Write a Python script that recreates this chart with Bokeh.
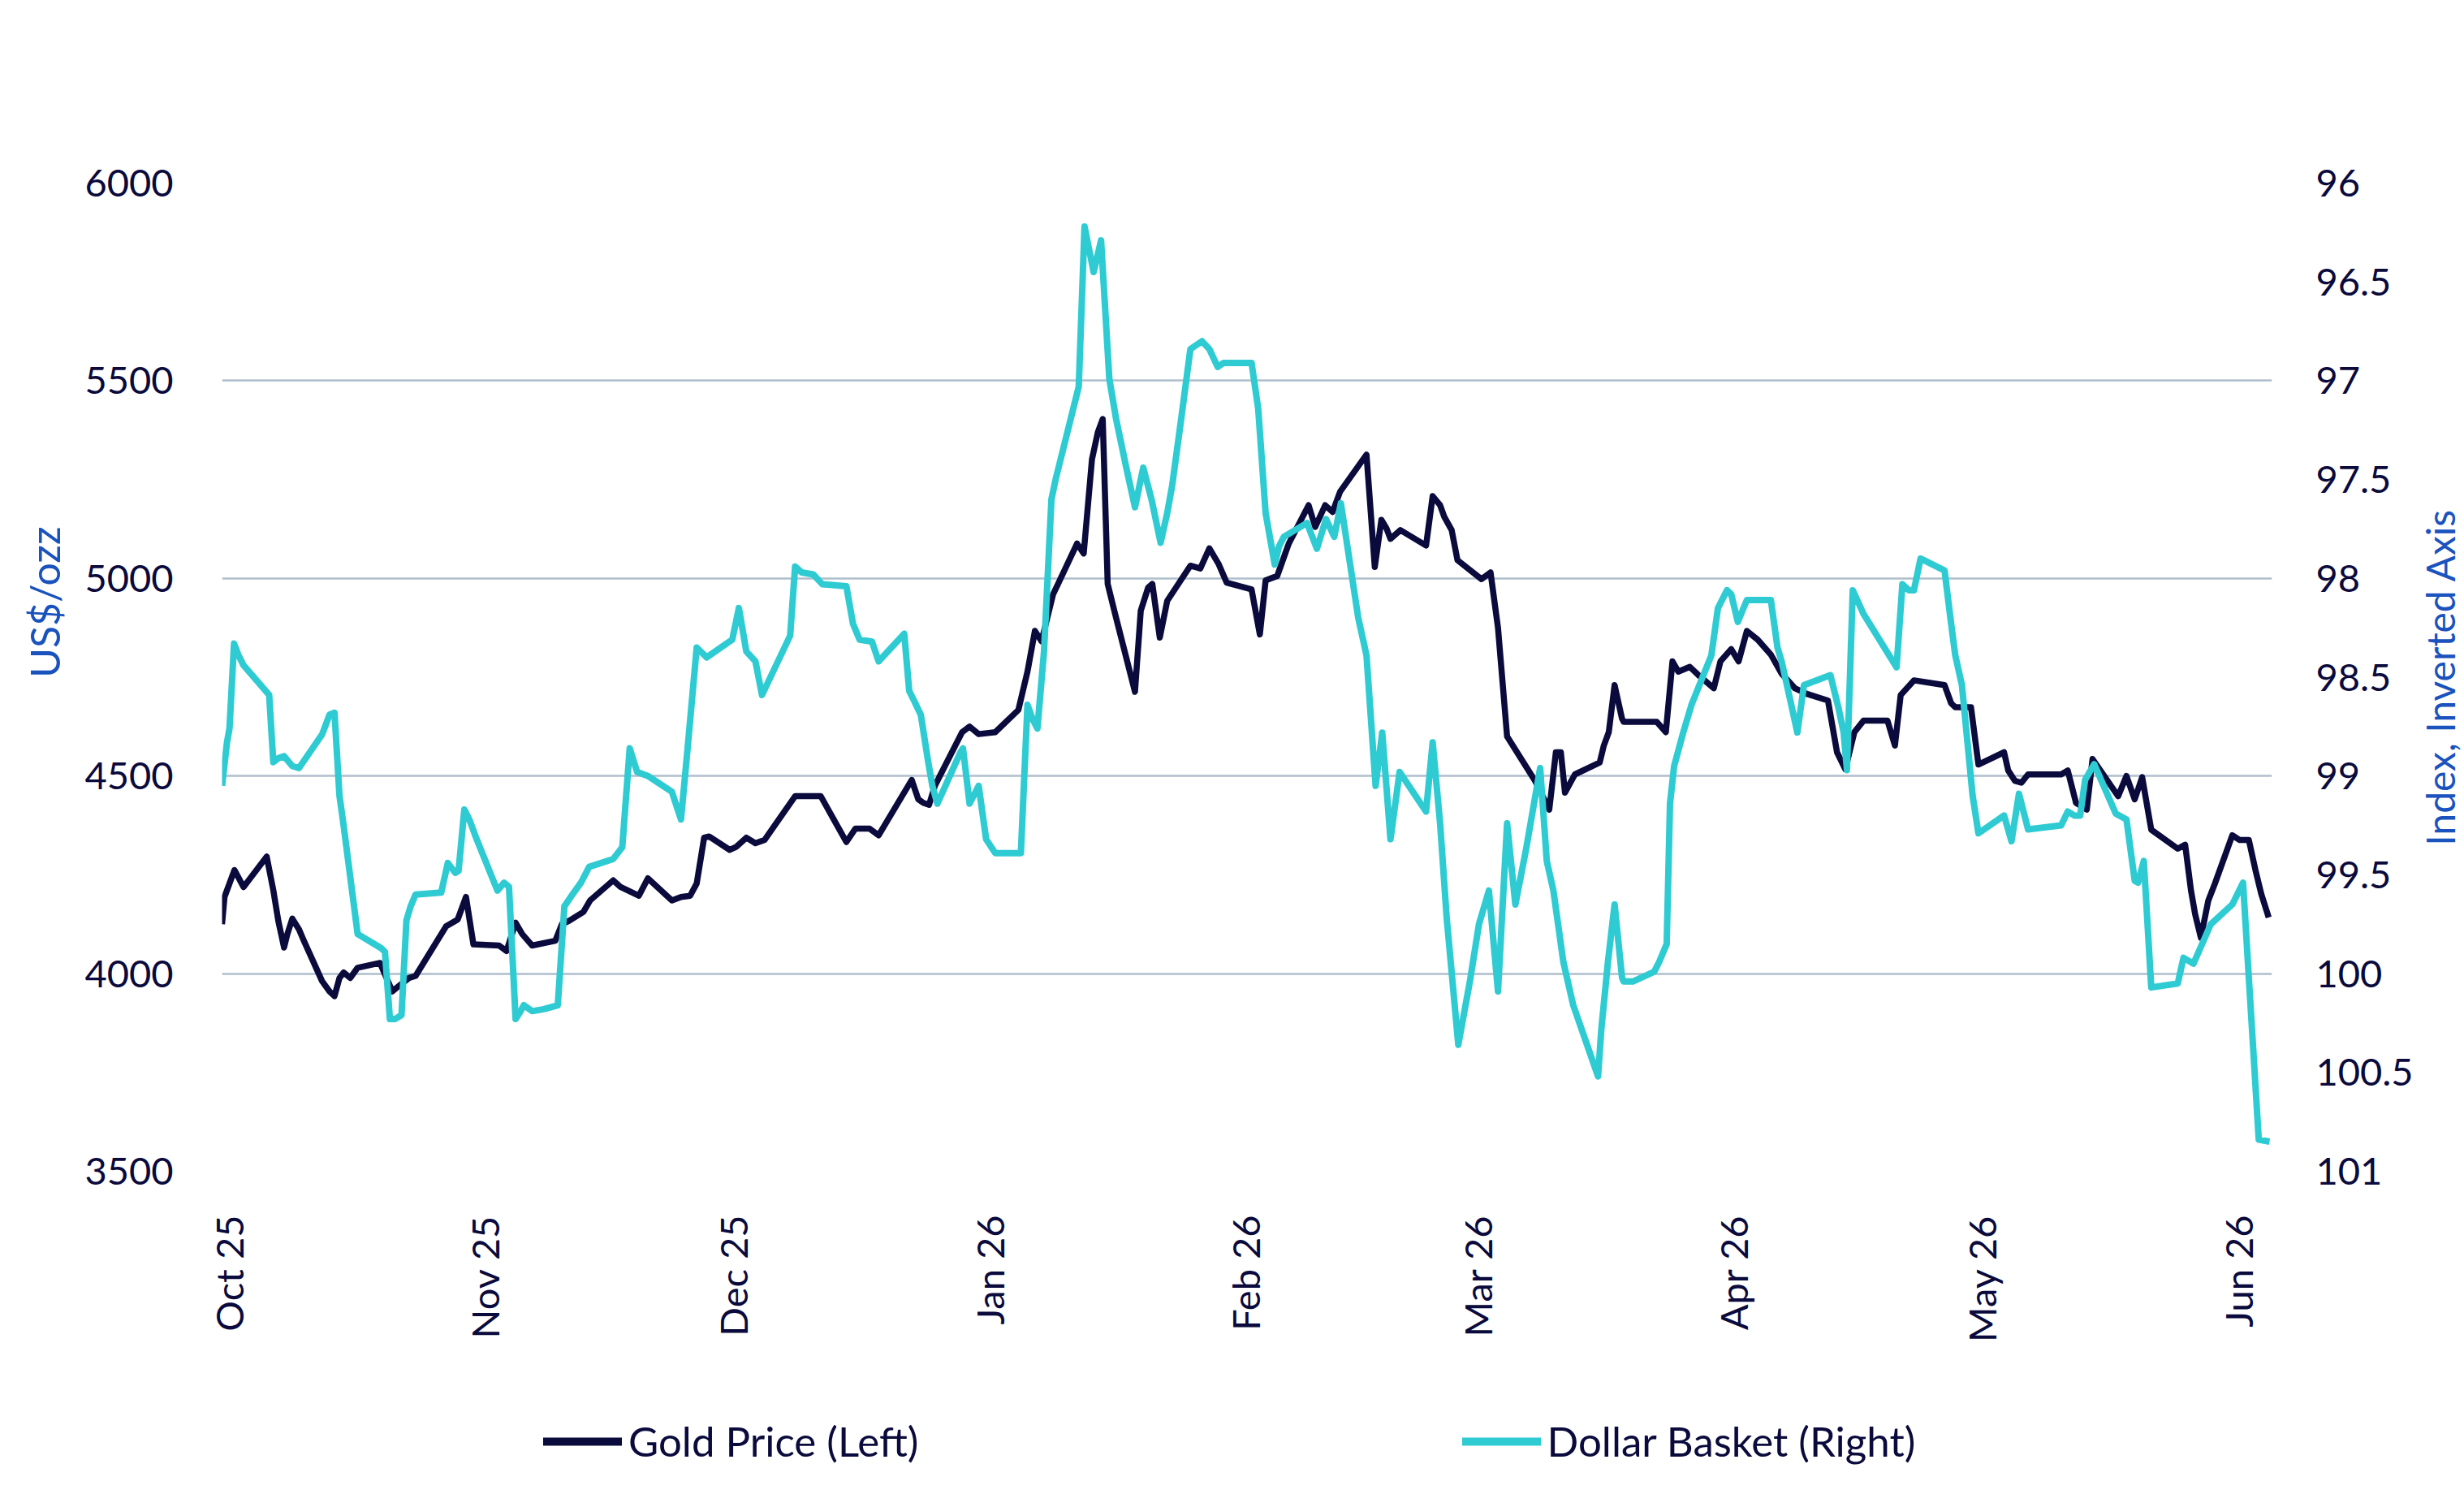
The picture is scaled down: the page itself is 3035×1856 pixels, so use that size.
import math
import pandas as pd
from bokeh.plotting import figure
from bokeh.layouts import column, row
from bokeh.models import (Range1d, LinearAxis, FixedTicker, DatetimeTickFormatter,
                          NumeralTickFormatter, Legend, LegendItem, Title, Label)
from bokeh.embed import file_html
from bokeh.resources import INLINE

# ---------------- data ----------------
BASE_DATE = "2025-10-01"

gold_day = [-0.8, -0.5, 0.1, 0.7, 1.8, 4.6, 5.4, 6.0, 6.7, 7.1,
            7.7, 8.5, 9.1, 11.3, 12.2, 12.8, 13.4, 13.9, 14.7, 15.6,
            18.3, 19.8, 20.3, 21.8, 22.6, 26.3, 27.7, 28.7, 29.6, 32.7,
            33.6, 34.7, 35.5, 36.7, 39.5, 40.3, 41.2, 42.9, 43.7, 46.5,
            47.4, 49.6, 50.7, 53.6, 54.7, 55.8, 56.6, 57.5, 58.1, 60.6,
            61.4, 62.6, 63.7, 64.8, 68.5, 71.6, 74.7, 75.8, 77.5, 78.6,
            82.6, 83.4, 84.0, 84.7, 85.4, 86.0, 88.7, 89.6, 90.7, 92.7,
            95.5, 96.6, 97.5, 98.3, 99.7, 100.3, 102.6, 103.4, 104.4, 105.1,
            105.7, 106.3, 107.1, 109.6, 110.3, 111.2, 111.7, 112.6, 113.5, 116.3,
            117.5, 118.6, 119.7, 120.7, 123.7, 124.7, 125.4, 126.8, 128.2, 130.6,
            131.4, 132.6, 133.5, 134.4, 137.6, 138.6, 139.4, 140.0, 140.5, 141.7,
            144.8, 145.6, 146.5, 147.0, 147.9, 148.6, 151.5, 152.6, 153.5, 154.6,
            158.0, 159.7, 160.5, 161.1, 161.6, 162.8, 165.8, 166.3, 166.9, 167.6,
            168.5, 168.7, 172.7, 173.8, 174.6, 175.3, 176.7, 177.7, 179.6, 180.4,
            181.7, 182.6, 183.6, 184.9, 186.5, 187.8, 189.4, 190.8, 193.4, 194.5,
            195.5, 196.6, 197.7, 200.6, 201.5, 202.2, 203.8, 207.5, 208.3, 208.8,
            210.7, 211.6, 214.7, 215.2, 216.0, 216.8, 217.6, 221.6, 222.4, 223.4,
            224.7, 225.4, 228.5, 229.5, 230.5, 231.4, 232.5, 235.7, 236.6, 237.3,
            237.8, 238.5, 239.4, 240.2, 242.3, 243.2, 244.3, 245.1, 245.8, 246.7]

gold_price = [4125, 4194, 4228, 4262, 4219, 4296, 4211, 4134, 4066, 4100,
              4139, 4112, 4083, 3981, 3955, 3943, 3989, 4003, 3989, 4015,
              4027, 3955, 3964, 3989, 3994, 4120, 4137, 4194, 4074, 4071,
              4057, 4129, 4100, 4071, 4083, 4125, 4134, 4156, 4185, 4236,
              4219, 4197, 4241, 4185, 4194, 4197, 4228, 4344, 4347, 4313,
              4321, 4344, 4330, 4338, 4449, 4449, 4333, 4367, 4367, 4350,
              4490, 4441, 4432, 4427, 4475, 4500, 4611, 4625, 4606, 4611,
              4667, 4764, 4867, 4841, 4960, 4986, 5088, 5063, 5301, 5369,
              5403, 4986, 4918, 4713, 4918, 4977, 4986, 4850, 4943, 5032,
              5025, 5076, 5037, 4989, 4972, 4858, 4995, 5006, 5088, 5185,
              5130, 5185, 5168, 5219, 5313, 5029, 5148, 5127, 5100, 5122,
              5083, 5208, 5185, 5156, 5122, 5046, 4998, 5015, 4875, 4600,
              4487, 4415, 4560, 4560, 4458, 4504, 4534, 4577, 4611, 4730,
              4645, 4637, 4637, 4611, 4790, 4764, 4776, 4756, 4722, 4790,
              4821, 4790, 4867, 4845, 4807, 4759, 4722, 4708, 4691, 4560,
              4517, 4611, 4640, 4640, 4577, 4705, 4742, 4730, 4684, 4674,
              4674, 4529, 4560, 4514, 4488, 4483, 4504, 4504, 4514, 4432,
              4415, 4543, 4449, 4500, 4441, 4497, 4364, 4316, 4326, 4211,
              4151, 4091, 4185, 4228, 4350, 4338, 4338, 4262, 4202, 4142]

usd_day = [-0.8, -0.2, 0.1, 0.65, 1.2, 1.8, 4.9, 5.4, 6.0, 6.7,
           7.7, 8.5, 11.3, 12.2, 12.8, 13.4, 13.9, 14.7, 15.6, 18.4,
           18.9, 19.5, 20.1, 20.9, 21.5, 22.0, 22.6, 25.7, 26.5, 27.4,
           27.8, 28.5, 29.1, 29.9, 32.5, 33.3, 33.9, 34.7, 35.3, 35.7,
           36.7, 38.1, 39.8, 40.6, 41.4, 42.6, 43.6, 46.5, 47.6, 48.5,
           49.4, 50.7, 53.6, 54.7, 55.5, 56.6, 57.8, 60.9, 61.7, 62.6,
           63.7, 64.5, 67.9, 68.5, 69.3, 70.7, 71.8, 74.7, 75.5, 76.3,
           77.8, 78.6, 81.7, 82.3, 82.9, 83.7, 84.6, 85.1, 85.7, 88.5,
           88.8, 89.6, 90.7, 91.6, 92.7, 95.8, 96.6, 97.2, 97.8, 98.6,
           99.5, 100.0, 102.8, 103.5, 104.6, 105.5, 106.5, 107.3, 108.5, 109.6,
           110.6, 111.6, 112.7, 113.5, 114.1, 115.2, 116.3, 117.7, 118.6, 119.6,
           120.3, 123.7, 124.5, 125.4, 126.5, 127.0, 127.6, 130.4, 131.6, 132.7,
           133.7, 134.5, 136.6, 137.6, 138.7, 139.5, 140.5, 141.6, 144.8, 145.6,
           146.5, 147.3, 148.7, 150.1, 151.2, 152.4, 153.5, 154.6, 155.6, 156.9,
           158.6, 159.4, 160.2, 161.4, 162.6, 165.6, 166.0, 166.8, 167.6, 168.5,
           168.7, 169.8, 172.4, 173.0, 173.9, 174.3, 174.8, 175.9, 176.9, 179.3,
           180.1, 181.2, 181.7, 182.5, 183.6, 186.5, 187.3, 187.8, 188.6, 189.7,
           190.5, 193.7, 194.7, 195.3, 195.7, 196.4, 197.7, 201.7, 202.4, 203.2,
           203.8, 204.6, 207.5, 208.3, 208.8, 209.6, 210.9, 211.6, 214.7, 215.6,
           216.5, 217.6, 221.6, 222.4, 223.2, 223.9, 224.5, 225.6, 228.2, 229.5,
           230.5, 230.9, 231.6, 232.5, 235.7, 236.4, 237.6, 239.7, 242.3, 243.6,
           244.4, 244.9, 245.5, 246.8]

usd_index = [99.05, 98.83, 98.76, 98.33, 98.39, 98.44, 98.59, 98.93, 98.91, 98.90,
             98.95, 98.96, 98.79, 98.69, 98.68, 99.10, 99.25, 99.51, 99.80, 99.87,
             99.89, 100.23, 100.23, 100.21, 99.73, 99.66, 99.60, 99.59, 99.44, 99.49,
             99.48, 99.17, 99.22, 99.31, 99.58, 99.54, 99.56, 100.23, 100.19, 100.16,
             100.19, 100.18, 100.16, 99.66, 99.61, 99.54, 99.46, 99.42, 99.36, 98.86,
             98.98, 99.00, 99.08, 99.22, 98.86, 98.35, 98.40, 98.31, 98.15, 98.37,
             98.42, 98.59, 98.29, 97.94, 97.97, 97.98, 98.03, 98.04, 98.23, 98.31,
             98.32, 98.42, 98.28, 98.57, 98.62, 98.69, 98.93, 99.05, 99.14, 98.88,
             98.86, 99.14, 99.05, 99.32, 99.39, 99.39, 98.64, 98.71, 98.76, 98.37,
             97.60, 97.50, 97.03, 96.22, 96.45, 96.29, 96.99, 97.19, 97.43, 97.64,
             97.44, 97.60, 97.82, 97.67, 97.53, 97.19, 96.84, 96.80, 96.84, 96.93,
             96.91, 96.91, 97.14, 97.67, 97.93, 97.84, 97.79, 97.72, 97.85, 97.70,
             97.79, 97.62, 98.20, 98.39, 99.05, 98.78, 99.32, 98.98, 99.18, 98.83,
             99.24, 99.72, 100.36, 100.04, 99.75, 99.58, 100.09, 99.24, 99.65, 99.37,
             98.96, 99.43, 99.58, 99.94, 100.16, 100.52, 100.28, 99.94, 99.65, 100.02,
             100.04, 100.04, 99.99, 99.94, 99.85, 99.14, 98.95, 98.78, 98.64, 98.39,
             98.15, 98.06, 98.08, 98.22, 98.11, 98.11, 98.35, 98.42, 98.57, 98.78,
             98.54, 98.49, 98.66, 98.78, 98.97, 98.06, 98.18, 98.45, 98.03, 98.06,
             98.06, 97.90, 97.96, 98.23, 98.39, 98.54, 99.10, 99.29, 99.20, 99.33,
             99.09, 99.27, 99.25, 99.18, 99.20, 99.20, 99.02, 98.94, 99.19, 99.22,
             99.53, 99.54, 99.43, 100.07, 100.05, 99.92, 99.95, 99.75, 99.65, 99.54,
             100.09, 100.43, 100.84, 100.85]

month_ticks = ["2025-10-01", "2025-11-01", "2025-12-01", "2026-01-01", "2026-02-01",
               "2026-03-01", "2026-04-01", "2026-05-01", "2026-06-01"]
left_ticks = [3500, 4000, 4500, 5000, 5500, 6000]
right_ticks = [96, 96.5, 97, 97.5, 98, 98.5, 99, 99.5, 100, 100.5, 101]

# ---------------- styling ----------------
NAVY = "#0a0a3c"
TEAL = "#2ecbd3"
GRID = "#aebfcc"
BLUE = "#1a52be"
FONT = "Lato"

W = 3035
W_TITLE = 60            # strip on the far right holding the right-axis title
W_MAIN = W - W_TITLE
H_MAIN = 1672
H_LEG = 1856 - H_MAIN
B_LEFT, B_TOP, B_BOTTOM = 273, 225, H_MAIN - 1442

base = pd.Timestamp(BASE_DATE)
def to_dt(days):
    return base + pd.to_timedelta(days, unit="D")
def ms(ts):
    return pd.Timestamp(ts).value / 1e6

gold_x = to_dt(gold_day)
usd_x = to_dt(usd_day)

p = figure(width=W_MAIN, height=H_MAIN, x_axis_type="datetime",
           x_range=Range1d(to_dt(-0.8), to_dt(247.1)),
           y_range=Range1d(3500, 6000),
           output_backend="svg", toolbar_location=None, tools="",
           min_border_left=B_LEFT, min_border_right=W_MAIN - 2801,
           min_border_top=B_TOP, min_border_bottom=B_BOTTOM)
p.outline_line_color = None
p.background_fill_color = "white"
p.border_fill_color = "white"

p.extra_y_ranges = {"usd": Range1d(101, 96)}

# grid
p.xgrid.grid_line_color = None
p.ygrid.ticker = FixedTicker(ticks=left_ticks)
p.ygrid.grid_line_color = GRID
p.ygrid.grid_line_width = 2.5

# left axis
ya = p.yaxis[0]
ya.ticker = FixedTicker(ticks=left_ticks)
ya.axis_line_color = None
ya.major_tick_line_color = None
ya.minor_tick_line_color = None
ya.major_label_standoff = 54
ya.major_label_text_font = FONT
ya.major_label_text_font_size = "47px"
ya.major_label_text_color = NAVY

# left axis title (sits above the centre, as in the reference)
p.add_layout(Title(text="US$/ozz", align="right", offset=423, standoff=34,
                   text_font=FONT, text_font_size="50px", text_font_style="normal",
                   text_color=BLUE), "left")

# right axis
ra = LinearAxis(y_range_name="usd", ticker=FixedTicker(ticks=right_ticks),
                formatter=NumeralTickFormatter(format="0.[0]"))
ra.axis_line_color = None
ra.major_tick_line_color = None
ra.minor_tick_line_color = None
ra.major_label_standoff = 48
ra.major_label_text_font = FONT
ra.major_label_text_font_size = "47px"
ra.major_label_text_color = NAVY
p.add_layout(ra, "right")

# x axis
xa = p.xaxis[0]
xa.ticker = FixedTicker(ticks=[ms(t) for t in month_ticks])
fmt = "%b %y"
xa.formatter = DatetimeTickFormatter(microseconds=fmt, milliseconds=fmt, seconds=fmt,
                                     minsec=fmt, minutes=fmt, hourmin=fmt, hours=fmt,
                                     days=fmt, months=fmt, years=fmt)
xa.major_label_orientation = math.pi / 2
xa.axis_line_color = None
xa.major_tick_line_color = None
xa.minor_tick_line_color = None
xa.major_label_standoff = 48
xa.major_label_text_font = FONT
xa.major_label_text_font_size = "47px"
xa.major_label_text_color = NAVY

# lines
p.line(gold_x, gold_price, line_color=NAVY, line_width=7.5, line_join="round")
p.line(usd_x, usd_index, y_range_name="usd", line_color=TEAL, line_width=8,
       line_join="round")

# ---------------- right-axis title strip ----------------
r = figure(width=W_TITLE, height=H_MAIN, x_range=Range1d(0, W_TITLE), y_range=Range1d(0, 1),
           x_axis_location=None, y_axis_location=None,
           output_backend="svg", toolbar_location=None, tools="",
           min_border_left=0, min_border_right=0,
           min_border_top=B_TOP, min_border_bottom=B_BOTTOM)
r.grid.visible = False
r.outline_line_color = None
r.background_fill_color = "white"
r.border_fill_color = "white"
r.add_layout(Label(x=W_TITLE / 2, y=0.5, text="Index, Inverted Axis", angle=math.pi / 2,
                   text_align="center", text_baseline="middle",
                   text_font=FONT, text_font_size="48px", text_color=BLUE))

# ---------------- legend strip below the chart ----------------
q = figure(width=W, height=H_LEG, x_range=Range1d(0, W), y_range=Range1d(0, H_LEG),
           x_axis_location=None, y_axis_location=None,
           output_backend="svg", toolbar_location=None, tools="",
           min_border_left=B_LEFT, min_border_right=0, min_border_top=0, min_border_bottom=0)
q.grid.visible = False
q.outline_line_color = None
q.background_fill_color = "white"
q.border_fill_color = "white"

# swatch renderers (their data lies outside the strip's view; only the legend shows them)
gold_sw = q.line([-50, -40], [-50, -40], line_color=NAVY, line_width=10, line_cap="round")
usd_sw = q.line([-50, -40], [-50, -40], line_color=TEAL, line_width=10, line_cap="round")

legend = Legend(items=[LegendItem(label="Gold Price (Left)", renderers=[gold_sw]),
                       LegendItem(label="Dollar Basket (Right)", renderers=[usd_sw])],
                orientation="horizontal", location=(669 - B_LEFT, 51),
                glyph_width=97, glyph_height=60, label_height=60,
                label_standoff=8, spacing=669, padding=0, margin=0,
                label_text_font=FONT, label_text_font_size="51px",
                label_text_color=NAVY, border_line_color=None,
                background_fill_alpha=0)
q.add_layout(legend, "center")

open("out.html", "w").write(file_html(column(row(p, r), q), INLINE))
